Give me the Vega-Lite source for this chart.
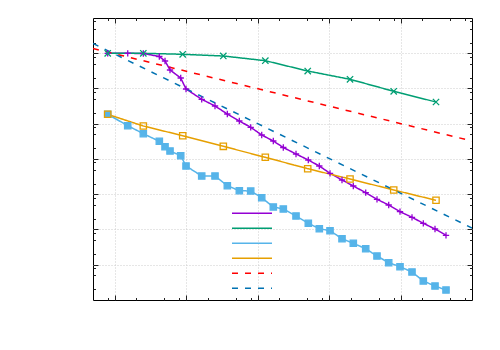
{
  "$schema": "https://vega.github.io/schema/vega-lite/v6.json",
  "autosize": {"type": "none"},
  "width": 379,
  "height": 282,
  "padding": {"left": 93, "top": 18, "right": 28, "bottom": 50},
  "background": "white",
  "config": {
    "view": {"stroke": "black", "strokeWidth": 1},
    "axis": {
      "labels": false,
      "title": null,
      "domain": false,
      "ticks": true,
      "tickColor": "#222222",
      "tickWidth": 1,
      "tickSize": {"condition": {"test": "abs(log(datum.value)/LN10 - round(log(datum.value)/LN10)) < 0.001", "value": -5}, "value": -2.5},
      "grid": true,
      "gridColor": "#cccccc",
      "gridDash": [1, 2],
      "gridWidth": 1,
      "gridOpacity": {"condition": {"test": "abs(log(datum.value)/LN10 - round(log(datum.value)/LN10)) < 0.001", "value": 1}, "value": 0}
    }
  },
  "data": {
    "values": [
      {"s": "A", "x": 0.803, "y": 0.0997},
      {"s": "A", "x": 1.53, "y": 0.0997},
      {"s": "A", "x": 2.528, "y": 0.0984},
      {"s": "A", "x": 4.233, "y": 0.0809},
      {"s": "A", "x": 5.086, "y": 0.0603},
      {"s": "A", "x": 5.973, "y": 0.0335},
      {"s": "A", "x": 8.43, "y": 0.01986},
      {"s": "A", "x": 10, "y": 0.00968},
      {"s": "A", "x": 16.58, "y": 0.004938},
      {"s": "A", "x": 25.44, "y": 0.003188},
      {"s": "A", "x": 37.82, "y": 0.00189},
      {"s": "A", "x": 55.66, "y": 0.001197},
      {"s": "A", "x": 80.33, "y": 0.000793},
      {"s": "A", "x": 114.5, "y": 0.00048},
      {"s": "A", "x": 166.3, "y": 0.000324},
      {"s": "A", "x": 229.5, "y": 0.000212},
      {"s": "A", "x": 345.5, "y": 0.0001386},
      {"s": "A", "x": 513.4, "y": 0.0000937},
      {"s": "A", "x": 731.6, "y": 0.0000633},
      {"s": "A", "x": 1033, "y": 0.0000393},
      {"s": "A", "x": 1520, "y": 0.0000254},
      {"s": "A", "x": 2187, "y": 0.00001714},
      {"s": "A", "x": 3261, "y": 0.00001107},
      {"s": "A", "x": 4691, "y": 0.00000719},
      {"s": "A", "x": 6839, "y": 0.00000495},
      {"s": "A", "x": 9840, "y": 0.0000032},
      {"s": "A", "x": 14480, "y": 0.00000222},
      {"s": "A", "x": 20840, "y": 0.0000015},
      {"s": "A", "x": 30380, "y": 0.000001033},
      {"s": "A", "x": 43290, "y": 0.000000685},
      {"s": "B", "x": 0.803, "y": 0.0997},
      {"s": "B", "x": 2.528, "y": 0.0997},
      {"s": "B", "x": 8.99, "y": 0.0934},
      {"s": "B", "x": 33.24, "y": 0.0836},
      {"s": "B", "x": 128.6, "y": 0.0615},
      {"s": "B", "x": 503.6, "y": 0.03135},
      {"s": "B", "x": 1967, "y": 0.01824},
      {"s": "B", "x": 8034, "y": 0.00833},
      {"s": "B", "x": 31370, "y": 0.00414},
      {"s": "C", "x": 0.803, "y": 0.001853},
      {"s": "C", "x": 1.53, "y": 0.000881},
      {"s": "C", "x": 2.528, "y": 0.000522},
      {"s": "C", "x": 4.233, "y": 0.000318},
      {"s": "C", "x": 5.086, "y": 0.000223},
      {"s": "C", "x": 5.973, "y": 0.0001686},
      {"s": "C", "x": 8.43, "y": 0.0001241},
      {"s": "C", "x": 10, "y": 0.0000633},
      {"s": "C", "x": 16.58, "y": 0.0000329},
      {"s": "C", "x": 25.44, "y": 0.0000329},
      {"s": "C", "x": 37.82, "y": 0.00001748},
      {"s": "C", "x": 55.66, "y": 0.00001261},
      {"s": "C", "x": 80.33, "y": 0.00001236},
      {"s": "C", "x": 114.5, "y": 0.00000798},
      {"s": "C", "x": 166.3, "y": 0.00000435},
      {"s": "C", "x": 229.5, "y": 0.00000382},
      {"s": "C", "x": 345.5, "y": 0.00000242},
      {"s": "C", "x": 513.4, "y": 0.0000015},
      {"s": "C", "x": 731.6, "y": 0.000001054},
      {"s": "C", "x": 1033, "y": 0.000000925},
      {"s": "C", "x": 1520, "y": 0.000000548},
      {"s": "C", "x": 2187, "y": 0.000000406},
      {"s": "C", "x": 3261, "y": 0.000000285},
      {"s": "C", "x": 4691, "y": 0.000000177},
      {"s": "C", "x": 6839, "y": 0.0000001143},
      {"s": "C", "x": 9840, "y": 0.0000000881},
      {"s": "C", "x": 14480, "y": 0.0000000623},
      {"s": "C", "x": 20840, "y": 0.0000000346},
      {"s": "C", "x": 30380, "y": 0.0000000249},
      {"s": "C", "x": 43290, "y": 0.0000000192},
      {"s": "D", "x": 0.803, "y": 0.001853},
      {"s": "D", "x": 2.528, "y": 0.000863},
      {"s": "D", "x": 8.99, "y": 0.000458},
      {"s": "D", "x": 33.24, "y": 0.000229},
      {"s": "D", "x": 128.6, "y": 0.0001117},
      {"s": "D", "x": 503.6, "y": 0.0000531},
      {"s": "D", "x": 1967, "y": 0.0000271},
      {"s": "D", "x": 8034, "y": 0.0000132},
      {"s": "D", "x": 31370, "y": 0.00000674},
      {"s": "E", "x": 0.5, "y": 0.1364},
      {"s": "E", "x": 100000, "y": 0.000324},
      {"s": "F", "x": 0.5, "y": 0.189},
      {"s": "F", "x": 100000, "y": 0.000001103}
    ]
  },
  "resolve": {"axis": {"x": "independent", "y": "independent"}},
  "layer": [
    {
      "mark": {"type": "line", "strokeWidth": 1.5, "clip": true},
      "encoding": {
        "x": {"field": "x", "type": "quantitative",
          "scale": {"type": "log", "domain": [0.5, 100000], "nice": false},
          "axis": {"orient": "bottom", "values": [0.8, 1, 2, 5, 8, 10, 20, 50, 80, 100, 200, 500, 800, 1000, 2000, 5000, 8000, 10000, 20000, 50000, 80000]}},
        "y": {"field": "y", "type": "quantitative",
          "scale": {"type": "log", "domain": [0.00000001, 1], "nice": false},
          "axis": {"orient": "left", "values": [0.8, 0.5, 0.2, 0.1, 0.08, 0.05, 0.02, 0.01, 0.008, 0.005, 0.002, 0.001, 0.0008, 0.0005, 0.0002, 0.0001, 0.00008, 0.00005, 0.00002, 0.00001, 0.000008, 0.000005, 0.000002, 0.000001, 0.0000008, 0.0000005, 0.0000002, 0.0000001, 0.00000008, 0.00000005, 0.00000002]}},
        "color": {"field": "s", "type": "nominal",
          "scale": {"domain": ["A", "B", "C", "D", "E", "F"], "range": ["#9400d3", "#009e73", "#56b4e9", "#e69f00", "#ff0000", "#0072b2"]},
          "legend": {"orient": "none", "legendX": 138, "legendY": 188, "title": null, "labelExpr": "''", "symbolType": "stroke", "symbolSize": 1600, "symbolStrokeWidth": 1.5, "clipHeight": 14.6, "rowPadding": 0, "padding": 0, "labelLimit": 1, "labelOffset": 0}},
        "strokeDash": {"field": "s", "type": "nominal",
          "scale": {"domain": ["A", "B", "C", "D", "E", "F"], "range": [[1, 0], [1, 0], [1, 0], [1, 0], [6, 7], [6, 7]]}}
      }
    },
    {
      "transform": [{"filter": "datum.s !== 'E' && datum.s !== 'F'"}],
      "mark": {"type": "point", "filled": false, "strokeWidth": 1.3, "opacity": 1, "clip": true},
      "encoding": {
        "x": {"field": "x", "type": "quantitative",
          "axis": {"orient": "top", "grid": false, "values": [0.8, 1, 2, 5, 8, 10, 20, 50, 80, 100, 200, 500, 800, 1000, 2000, 5000, 8000, 10000, 20000, 50000, 80000]}},
        "y": {"field": "y", "type": "quantitative",
          "axis": {"orient": "right", "grid": false, "values": [0.8, 0.5, 0.2, 0.1, 0.08, 0.05, 0.02, 0.01, 0.008, 0.005, 0.002, 0.001, 0.0008, 0.0005, 0.0002, 0.0001, 0.00008, 0.00005, 0.00002, 0.00001, 0.000008, 0.000005, 0.000002, 0.000001, 0.0000008, 0.0000005, 0.0000002, 0.0000001, 0.00000008, 0.00000005, 0.00000002]}},
        "color": {"field": "s", "type": "nominal"},
        "shape": {"field": "s", "type": "nominal",
          "scale": {"domain": ["A", "B", "C", "D"], "range": ["M-1,0L1,0M0,-1L0,1", "M-1,-1L1,1M-1,1L1,-1", "square", "square"]},
          "legend": null},
        "fill": {"condition": {"test": "datum.s === 'C'", "value": "#56b4e9"}, "value": "transparent"},
        "size": {"value": 40}
      }
    }
  ]
}
